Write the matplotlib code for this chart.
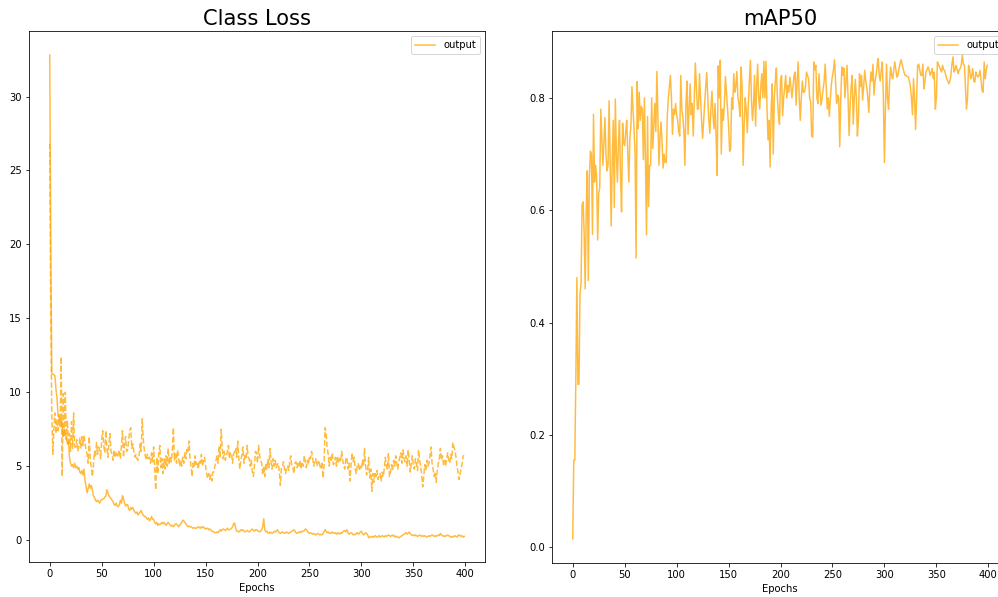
import matplotlib
matplotlib.use("Agg")
import matplotlib.pyplot as plt
import numpy as np

epochs = list(range(400))

train_class_loss = [
    32.8, 20.0, 11.3, 11.2, 11.2, 11.1, 10.2, 9.6, 8.4, 8.3,
    8.0, 8.2, 7.6, 7.0, 7.5, 7.2, 6.9, 6.5, 6.7, 5.6,
    5.2, 5.0, 5.1, 4.9, 5.2, 4.9, 5.0, 4.8, 4.9, 4.6,
    4.5, 4.7, 4.4, 4.8, 4.0, 3.6, 3.2, 3.5, 3.8, 3.5,
    3.7, 3.4, 3.0, 2.9, 2.7, 2.6, 2.7, 2.6, 2.5, 2.7,
    2.7, 2.8, 2.8, 2.9, 3.0, 3.4, 3.2, 3.0, 2.9, 2.8,
    2.7, 2.6, 2.4, 2.35, 2.5, 2.3, 2.25, 2.4, 2.7, 2.5,
    3.0, 2.8, 2.5, 2.3, 2.4, 2.4, 2.1, 2.0, 2.2, 2.1,
    2.2, 2.0, 1.9, 1.8, 1.9, 1.7, 1.8, 1.9, 2.0, 1.8,
    1.7, 1.6, 1.6, 1.5, 1.4, 1.5, 1.3, 1.4, 1.6, 1.4,
    1.4, 1.2, 1.1, 1.2, 1.0, 1.1, 1.05, 1.1, 1.2, 1.1,
    1.2, 1.1, 1.0, 1.1, 1.2, 1.1, 1.0, 0.95, 1.0, 0.9,
    1.0, 1.1, 1.1, 1.0, 0.9, 1.0, 1.1, 1.2, 1.35, 1.3,
    1.2, 1.1, 1.0, 0.9, 0.95, 0.9, 0.9, 0.85, 0.8, 0.85,
    0.8, 0.8, 0.85, 0.9, 0.85, 0.8, 0.9, 0.85, 0.9, 0.8,
    0.75, 0.8, 0.8, 0.7, 0.75, 0.7, 0.6, 0.6, 0.55, 0.5,
    0.5, 0.55, 0.5, 0.6, 0.7, 0.6, 0.7, 0.75, 0.7, 0.65,
    0.7, 0.8, 0.7, 0.7, 0.75, 0.8, 0.9, 1.1, 1.15, 0.8,
    0.6, 0.6, 0.55, 0.6, 0.7, 0.65, 0.7, 0.6, 0.55, 0.6,
    0.65, 0.6, 0.55, 0.6, 0.7, 0.75, 0.65, 0.6, 0.7, 0.7,
    0.65, 0.6, 0.55, 0.6, 0.7, 0.9, 1.45, 0.7, 0.55, 0.6,
    0.5, 0.45, 0.55, 0.5, 0.45, 0.5, 0.6, 0.55, 0.6, 0.7,
    0.6, 0.5, 0.45, 0.5, 0.55, 0.5, 0.45, 0.5, 0.55, 0.5,
    0.45, 0.5, 0.55, 0.6, 0.65, 0.7, 0.6, 0.5, 0.45, 0.5,
    0.55, 0.5, 0.6, 0.55, 0.6, 0.65, 0.75, 0.7, 0.6, 0.5,
    0.45, 0.5, 0.45, 0.4, 0.45, 0.4, 0.35, 0.4, 0.45, 0.4,
    0.35, 0.4, 0.35, 0.45, 0.55, 0.7, 0.6, 0.5, 0.55, 0.45,
    0.5, 0.45, 0.55, 0.5, 0.45, 0.5, 0.4, 0.5, 0.45, 0.4,
    0.5, 0.45, 0.55, 0.6, 0.65, 0.55, 0.7, 0.5, 0.4, 0.45,
    0.5, 0.45, 0.35, 0.4, 0.35, 0.45, 0.5, 0.4, 0.45, 0.55,
    0.6, 0.45, 0.35, 0.4, 0.5, 0.45, 0.35, 0.15, 0.2, 0.25,
    0.2, 0.25, 0.2, 0.3, 0.25, 0.2, 0.25, 0.3, 0.2, 0.25,
    0.3, 0.25, 0.2, 0.3, 0.25, 0.3, 0.35, 0.3, 0.25, 0.3,
    0.35, 0.25, 0.3, 0.2, 0.25, 0.2, 0.15, 0.2, 0.25, 0.3,
    0.35, 0.4, 0.45, 0.5, 0.4, 0.45, 0.55, 0.45, 0.35, 0.3,
    0.35, 0.3, 0.35, 0.3, 0.25, 0.3, 0.35, 0.3, 0.25, 0.3,
    0.25, 0.3, 0.25, 0.2, 0.25, 0.3, 0.25, 0.3, 0.35, 0.3,
    0.25, 0.3, 0.25, 0.3, 0.35, 0.3, 0.45, 0.35, 0.3, 0.25,
    0.3, 0.25, 0.3, 0.35, 0.3, 0.25, 0.2, 0.25, 0.2, 0.25,
    0.3, 0.25, 0.2, 0.3, 0.35, 0.3, 0.25, 0.3, 0.2, 0.25,
]

val_class_loss = [
    26.8, 15.0, 8.5, 5.8, 7.5, 8.6, 7.2, 8.2, 7.4, 8.5,
    7.6, 12.4, 4.3, 9.9, 7.0, 10.0, 6.8, 8.1, 6.4, 7.2,
    6.0, 8.0, 6.2, 8.6, 6.3, 6.3, 6.8, 6.0, 6.3, 6.9,
    6.2, 7.0, 6.4, 7.1, 6.5, 6.1, 5.8, 5.2, 7.0, 5.5,
    4.9, 4.3, 5.0, 6.0, 5.6, 6.6, 5.8, 6.3, 6.1, 5.5,
    6.8, 7.4, 6.4, 5.9, 7.4, 6.2, 5.6, 6.5, 7.2, 6.0,
    5.8, 5.4, 6.1, 5.6, 5.9, 5.6, 5.8, 6.1, 5.5, 6.4,
    7.4, 5.6, 6.5, 7.0, 6.0, 6.1, 6.8, 7.4, 7.6, 6.2,
    6.5, 6.0, 5.6, 5.8, 5.5, 5.4, 5.7, 6.5, 6.0, 8.2,
    6.8, 6.1, 5.7, 5.4, 5.8, 5.5, 5.6, 5.2, 5.9, 5.3,
    6.3, 4.8, 3.4, 5.6, 4.5, 5.9, 6.4, 4.9, 5.5, 4.5,
    5.5, 4.8, 5.7, 5.0, 6.2, 5.1, 5.7, 5.3, 6.0, 7.6,
    5.4, 5.9, 5.2, 6.1, 5.6, 5.0, 5.4, 5.0, 5.6, 5.2,
    5.9, 5.5, 6.2, 6.0, 6.7, 5.6, 5.0, 4.3, 5.2, 5.0,
    5.7, 5.1, 5.3, 4.8, 5.4, 5.2, 5.8, 5.0, 5.4, 5.6,
    5.0, 4.5, 4.2, 4.5, 4.1, 4.4, 4.0, 4.6, 4.6, 5.0,
    5.4, 5.7, 5.2, 6.3, 5.6, 7.5, 6.3, 5.5, 6.0, 5.4,
    5.7, 6.0, 6.4, 5.5, 5.9, 5.9, 5.2, 5.8, 6.0, 6.2,
    5.6, 6.7, 5.5, 4.8, 5.4, 5.8, 6.3, 5.2, 5.7, 5.5,
    6.4, 5.6, 5.5, 5.0, 5.4, 4.6, 4.3, 5.0, 6.0, 5.9,
    5.2, 6.4, 5.7, 5.4, 5.2, 4.4, 5.0, 4.3, 5.2, 4.8,
    5.5, 4.9, 6.2, 5.3, 4.8, 5.5, 5.0, 5.4, 4.9, 5.1,
    5.2, 4.6, 3.7, 4.9, 5.0, 5.3, 4.8, 4.5, 4.9, 5.0,
    4.7, 5.3, 5.7, 5.0, 4.9, 4.5, 5.2, 5.3, 4.9, 5.2,
    5.0, 5.4, 4.8, 5.3, 5.0, 5.7, 5.3, 4.9, 5.4, 5.1,
    5.7, 5.5, 6.0, 5.6, 5.0, 5.3, 5.5, 5.0, 5.2, 5.4,
    5.0, 4.8, 5.3, 4.2, 5.0, 7.6, 7.2, 6.3, 5.8, 5.0,
    5.6, 5.3, 5.9, 5.1, 5.2, 5.6, 5.0, 5.7, 5.2, 5.5,
    5.3, 6.0, 5.4, 5.0, 4.8, 5.5, 5.6, 4.8, 5.2, 4.0,
    5.1, 5.9, 5.3, 5.6, 4.8, 4.5, 5.0, 5.2, 4.7, 5.0,
    4.8, 5.4, 5.0, 6.2, 5.0, 4.4, 4.8, 5.6, 4.2, 4.8,
    3.3, 4.5, 3.9, 4.6, 4.3, 4.7, 4.1, 4.4, 4.5, 4.0,
    4.6, 4.3, 4.8, 5.6, 5.0, 4.8, 5.9, 4.3, 4.6, 5.1,
    4.7, 5.4, 5.0, 5.7, 5.2, 4.8, 5.3, 5.6, 5.9, 5.2,
    6.1, 5.5, 5.3, 5.7, 5.0, 6.1, 5.4, 4.6, 5.2, 5.7,
    5.0, 4.8, 5.5, 5.2, 4.7, 6.1, 5.4, 5.0, 4.4, 3.6,
    4.3, 5.1, 4.7, 5.4, 5.0, 5.2, 5.7, 6.3, 5.2, 4.8,
    4.3, 4.6, 3.9, 4.7, 5.2, 5.5, 6.2, 5.4, 5.7, 5.1,
    5.4, 5.0, 5.5, 5.9, 5.4, 5.2, 5.8, 5.5, 6.6, 6.3,
    6.1, 5.6, 5.0, 4.6, 4.1, 4.5, 4.8, 5.2, 5.7, 5.7,
]

map50 = [
    0.015, 0.155, 0.155, 0.30, 0.48, 0.29, 0.29, 0.45, 0.47, 0.61,
    0.615, 0.56, 0.46, 0.60, 0.67, 0.475, 0.66, 0.705, 0.70, 0.557,
    0.771, 0.65, 0.68, 0.66, 0.547, 0.63, 0.64, 0.78, 0.73, 0.68,
    0.72, 0.765, 0.70, 0.67, 0.68, 0.795, 0.69, 0.572, 0.68, 0.76,
    0.605, 0.798, 0.70, 0.65, 0.72, 0.76, 0.66, 0.597, 0.755, 0.72,
    0.715, 0.74, 0.76, 0.70, 0.65, 0.73, 0.75, 0.82, 0.78, 0.745,
    0.70, 0.515, 0.829, 0.745, 0.81, 0.76, 0.785, 0.78, 0.69, 0.80,
    0.69, 0.556, 0.767, 0.607, 0.68, 0.68, 0.80, 0.71, 0.75, 0.79,
    0.74, 0.847, 0.76, 0.68, 0.73, 0.757, 0.72, 0.675, 0.70, 0.685,
    0.685, 0.767, 0.80, 0.82, 0.84, 0.80, 0.735, 0.78, 0.77, 0.79,
    0.77, 0.76, 0.74, 0.732, 0.84, 0.78, 0.765, 0.74, 0.68, 0.79,
    0.83, 0.735, 0.78, 0.825, 0.77, 0.79, 0.732, 0.80, 0.862, 0.82,
    0.78, 0.78, 0.843, 0.80, 0.76, 0.728, 0.76, 0.79, 0.82, 0.845,
    0.80, 0.76, 0.737, 0.78, 0.812, 0.77, 0.745, 0.79, 0.73, 0.662,
    0.857, 0.80, 0.867, 0.70, 0.78, 0.76, 0.79, 0.838, 0.81, 0.78,
    0.75, 0.705, 0.71, 0.80, 0.78, 0.843, 0.81, 0.82, 0.847, 0.80,
    0.79, 0.767, 0.855, 0.82, 0.68, 0.75, 0.80, 0.78, 0.738, 0.79,
    0.83, 0.867, 0.80, 0.76, 0.785, 0.84, 0.75, 0.82, 0.86, 0.80,
    0.78, 0.82, 0.843, 0.80, 0.865, 0.80, 0.865, 0.78, 0.725, 0.76,
    0.677, 0.78, 0.825, 0.70, 0.80, 0.83, 0.853, 0.80, 0.77, 0.753,
    0.833, 0.84, 0.768, 0.80, 0.82, 0.84, 0.80, 0.822, 0.81, 0.837,
    0.82, 0.80, 0.82, 0.84, 0.846, 0.787, 0.83, 0.864, 0.80, 0.76,
    0.80, 0.83, 0.81, 0.81, 0.82, 0.846, 0.84, 0.834, 0.80, 0.793,
    0.732, 0.73, 0.864, 0.85, 0.858, 0.80, 0.79, 0.843, 0.81, 0.787,
    0.80, 0.816, 0.83, 0.86, 0.82, 0.78, 0.80, 0.767, 0.80, 0.825,
    0.84, 0.85, 0.868, 0.83, 0.79, 0.805, 0.80, 0.713, 0.80, 0.855,
    0.84, 0.853, 0.80, 0.83, 0.858, 0.80, 0.733, 0.787, 0.82, 0.84,
    0.753, 0.80, 0.833, 0.80, 0.732, 0.762, 0.843, 0.82, 0.84, 0.796,
    0.82, 0.849, 0.83, 0.82, 0.80, 0.774, 0.82, 0.846, 0.83, 0.86,
    0.805, 0.83, 0.84, 0.858, 0.87, 0.84, 0.83, 0.85, 0.864, 0.80,
    0.685, 0.78, 0.86, 0.80, 0.78, 0.83, 0.855, 0.84, 0.834, 0.85,
    0.864, 0.85, 0.837, 0.84, 0.852, 0.86, 0.868, 0.86, 0.852, 0.845,
    0.84, 0.84, 0.838, 0.837, 0.83, 0.82, 0.80, 0.77, 0.834, 0.80,
    0.744, 0.80, 0.858, 0.86, 0.85, 0.84, 0.84, 0.86, 0.816, 0.83,
    0.846, 0.85, 0.855, 0.85, 0.84, 0.845, 0.852, 0.834, 0.846, 0.78,
    0.80, 0.864, 0.86, 0.855, 0.85, 0.846, 0.858, 0.85, 0.849, 0.84,
    0.834, 0.83, 0.825, 0.83, 0.84, 0.86, 0.873, 0.846, 0.85, 0.858,
    0.85, 0.843, 0.85, 0.852, 0.86, 0.876, 0.86, 0.858, 0.82, 0.78,
    0.80, 0.858, 0.85, 0.834, 0.84, 0.852, 0.83, 0.828, 0.846, 0.84,
    0.837, 0.84, 0.849, 0.83, 0.813, 0.81, 0.864, 0.834, 0.85, 0.858,
]

titles = ["Class Loss", "mAP50"]
xlabel = "Epochs"
legend_label = "output"
line_color = "orange"

DPI = 72
W, H = 998, 597
fig = plt.figure(figsize=(W / DPI, H / DPI), dpi=DPI)
fig.patch.set_facecolor("white")

ax1 = fig.add_axes([29 / W, (H - 562) / H, 456 / W, 531 / H])
ax2 = fig.add_axes([552 / W, (H - 563) / H, 456 / W, 532 / H])

ax1.plot(epochs, train_class_loss, color=line_color, alpha=0.75, lw=1.5, label=legend_label)
ax1.plot(epochs, val_class_loss, color=line_color, alpha=0.75, lw=1.5, ls="--")
ax1.set_title(titles[0], fontsize=21)
ax1.set_xlabel(xlabel, fontsize=10)
ax1.legend(loc="upper right", fontsize=10)

ax2.plot(epochs, map50, color=line_color, alpha=0.75, lw=1.5, label=legend_label)
ax2.set_title(titles[1], fontsize=21)
ax2.set_xlabel(xlabel, fontsize=10)
ax2.legend(loc="upper right", fontsize=10)

for ax in (ax1, ax2):
    ax.set_xticks(np.arange(0, 401, 50))
    ax.tick_params(labelsize=10)

fig.savefig("out.png", dpi=DPI)
